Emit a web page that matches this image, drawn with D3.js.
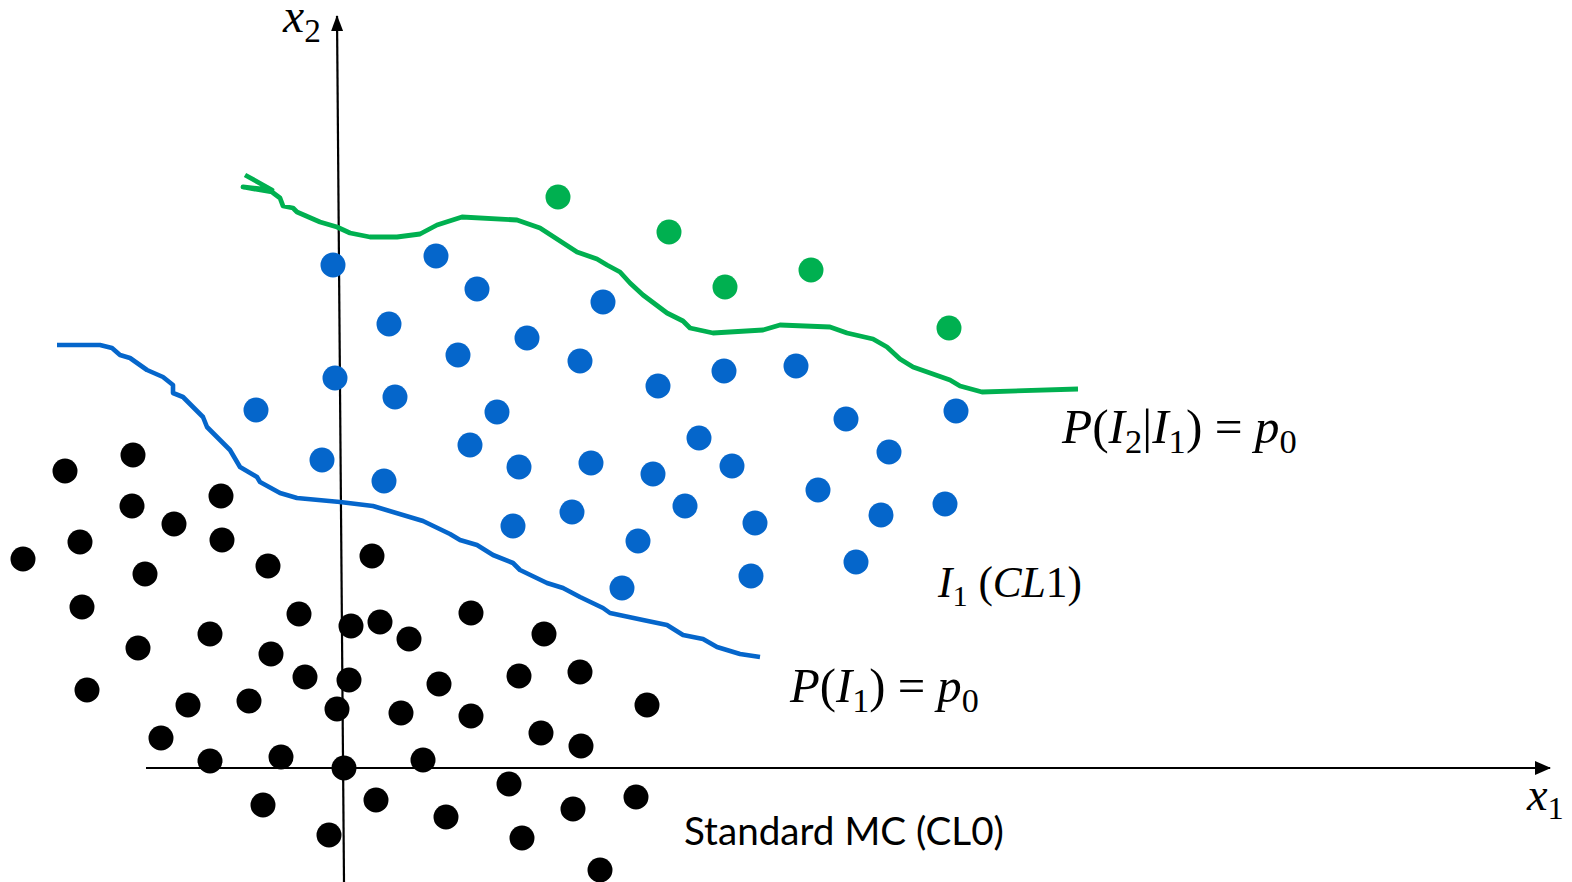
<!DOCTYPE html>
<html>
<head>
<meta charset="utf-8">
<script src="https://cdn.jsdelivr.net/npm/d3@7"></script>
<style>
  html, body { margin: 0; padding: 0; background: #fff; }
  svg { display: block; }
</style>
</head>
<body>
<div id="chart"></div>
<script>
// points are in axis units, origin where the two axes cross
var blackPts = [
  [-277,297],[-209,313],[-210,262],[-168,244],[-121,272],[-262,226],[-319,209],
  [-120,228],[-197,194],[-74,202],[30,212],[-260,161],[-43,154],[9,142],[38,146],
  [67,129],[-204,120],[-132,134],[-71,114],[-37,91],[7,88],[-255,78],[-154,63],
  [-93,67],[-5,59],[59,55],[-181,30],[-132,7],[-61,11],[2,0],[-79,-37],[34,-32],
  [-13,-67],[129,155],[202,134],[177,92],[238,96],[97,84],[305,63],[129,52],
  [199,35],[239,22],[81,8],[167,-16],[104,-49],[231,-41],[294,-29],[180,-70],[258,-102]
];
var bluePts = [
  [-9,503],[94,512],[135,479],[261,466],[47,444],[185,430],[116,413],[238,407],
  [-7,390],[53,371],[-86,358],[155,356],[128,323],[-20,308],[177,301],[249,305],
  [42,287],[230,256],[171,242],[296,227],[280,180],[316,382],[382,397],[454,402],
  [504,349],[614,357],[357,330],[547,316],[311,294],[390,302],[343,262],[476,278],
  [603,264],[539,253],[413,245],[514,206],[409,192]
];
var greenPts = [[216,571],[327,536],[383,481],[469,498],[607,440]];

// P(I1) = p0 boundary
var blueCurve = [
  [-285,423],[-242,423],[-230,420],[-222,413],[-212,410],[-195,398],[-179,391],
  [-169,383],[-169,375],[-159,371],[-139,351],[-135,341],[-112,318],[-102,301],
  [-85,291],[-82,286],[-62,275],[-45,270],[-2,266],[31,262],[81,247],[108,234],
  [118,228],[135,223],[151,213],[171,205],[178,198],[205,185],[221,180],[238,171],
  [261,160],[268,155],[301,148],[325,143],[341,133],[361,129],[375,121],[398,114],[418,111]
];
// P(I2|I1) = p0 boundary
var greenCurve = [
  [-97,593],[-70,578],[-99,581],[-70,576],[-62,570],[-59,562],[-49,560],[-45,556],
  [-22,546],[-5,541],[8,535],[28,531],[55,531],[78,534],[95,543],[120,551],
  [175,548],[198,540],[235,516],[255,509],[265,503],[278,496],[288,485],[301,473],
  [325,455],[341,447],[348,440],[371,435],[421,438],[438,443],[488,441],[505,435],
  [531,429],[545,421],[558,409],[571,401],[608,388],[618,382],[640,376],[736,379]
];

var xAxisEnds = [[-196,0],[1208,0]];
var yAxisEnds = [[2,-114],[-5,752]];

// i = italic, r = roman, s = subscript, t = plain text
var labels = [
  {parts:[["x","i"],["2","s"]], at:[-59,736], w:39},
  {parts:[["x","i"],["1","s"]], at:[1185,-42], w:38},
  {parts:[["P","i"],["(","r"],["I","i"],["2","s"],["|","r"],["I","i"],["1","s"],[") = ","r"],["p","i"],["0","s"]], at:[720,325], w:236},
  {parts:[["I","i"],["1","s"],[" (","r"],["CL","i"],["1","r"],[")","r"]], at:[596,171], w:145},
  {parts:[["P","i"],["(","r"],["I","i"],["1","s"],[") = ","r"],["p","i"],["0","s"]], at:[448,66], w:190},
  {parts:[["Standard MC (CL0)","t"]], at:[342,-77], w:320}
];

var width = 1572, height = 882;
var x = d3.scaleLinear().domain([-342, 1230]).range([0, width]);
var y = d3.scaleLinear().domain([768, -114]).range([0, height]);

var svg = d3.select("#chart").append("svg")
    .attr("width", width)
    .attr("height", height);

var defs = svg.append("defs");
defs.append("marker")
    .attr("id", "arrowX")
    .attr("markerUnits", "userSpaceOnUse")
    .attr("viewBox", "0 -7 16 14")
    .attr("refX", 15).attr("refY", 0)
    .attr("markerWidth", 16).attr("markerHeight", 14)
    .attr("orient", "auto")
  .append("path").attr("d", "M0,-7L16,0L0,7Z").attr("fill", "#000");
defs.append("marker")
    .attr("id", "arrowY")
    .attr("markerUnits", "userSpaceOnUse")
    .attr("viewBox", "0 -6 16 12")
    .attr("refX", 15).attr("refY", 0)
    .attr("markerWidth", 16).attr("markerHeight", 12)
    .attr("orient", "auto")
  .append("path").attr("d", "M0,-6L16,0L0,6Z").attr("fill", "#000");

var line = d3.line().x(function(d){ return x(d[0]); }).y(function(d){ return y(d[1]); });

// axes
svg.append("path").attr("d", line(xAxisEnds))
    .attr("stroke", "#000").attr("stroke-width", 2.2).attr("fill", "none")
    .attr("marker-end", "url(#arrowX)");
svg.append("path").attr("d", line(yAxisEnds))
    .attr("stroke", "#000").attr("stroke-width", 2.2).attr("fill", "none")
    .attr("marker-end", "url(#arrowY)");

// boundaries
svg.append("path").attr("d", line(blueCurve))
    .attr("stroke", "#0566CB").attr("stroke-width", 4.6).attr("fill", "none")
    .attr("stroke-linejoin", "round");
svg.append("path").attr("d", line(greenCurve))
    .attr("stroke", "#00B050").attr("stroke-width", 4.8).attr("fill", "none")
    .attr("stroke-linejoin", "round");

function drawDots(pts, color){
  svg.append("g").selectAll("circle")
    .data(pts)
    .enter()
    .append("circle")
      .attr("cx", function(d){ return x(d[0]); })
      .attr("cy", function(d){ return y(d[1]); })
      .attr("r", 12.5)
      .attr("fill", color);
}
drawDots(blackPts, "#000");
drawDots(bluePts, "#0566CB");
drawDots(greenPts, "#00B050");

// labels, font size fitted to the width seen in the picture
labels.forEach(function(lb){
  var fs = 40;
  var t = svg.append("text")
      .attr("x", x(lb.at[0]))
      .attr("y", y(lb.at[1]))
      .style("white-space", "pre")
      .attr("fill", "#000");
  function build(fs){
    t.selectAll("tspan").remove();
    var shifted = false;
    lb.parts.forEach(function(p){
      var ts = t.append("tspan").text(p[0]);
      if (p[1] == "t") {
        ts.style("font-family", "Lato, 'Open Sans', sans-serif").style("font-size", fs + "px");
      } else {
        ts.style("font-family", "'Liberation Serif', serif")
          .style("font-style", p[1] == "i" ? "italic" : "normal")
          .style("font-size", (p[1] == "s" ? fs * 0.7 : fs) + "px");
      }
      if (p[1] == "s" && !shifted) { ts.attr("dy", fs * 0.2); shifted = true; }
      else if (p[1] != "s" && shifted) { ts.attr("dy", -fs * 0.2); shifted = false; }
    });
  }
  build(fs);
  var w = t.node().getBBox().width;
  build(fs * lb.w / w);
});
</script>
</body>
</html>
